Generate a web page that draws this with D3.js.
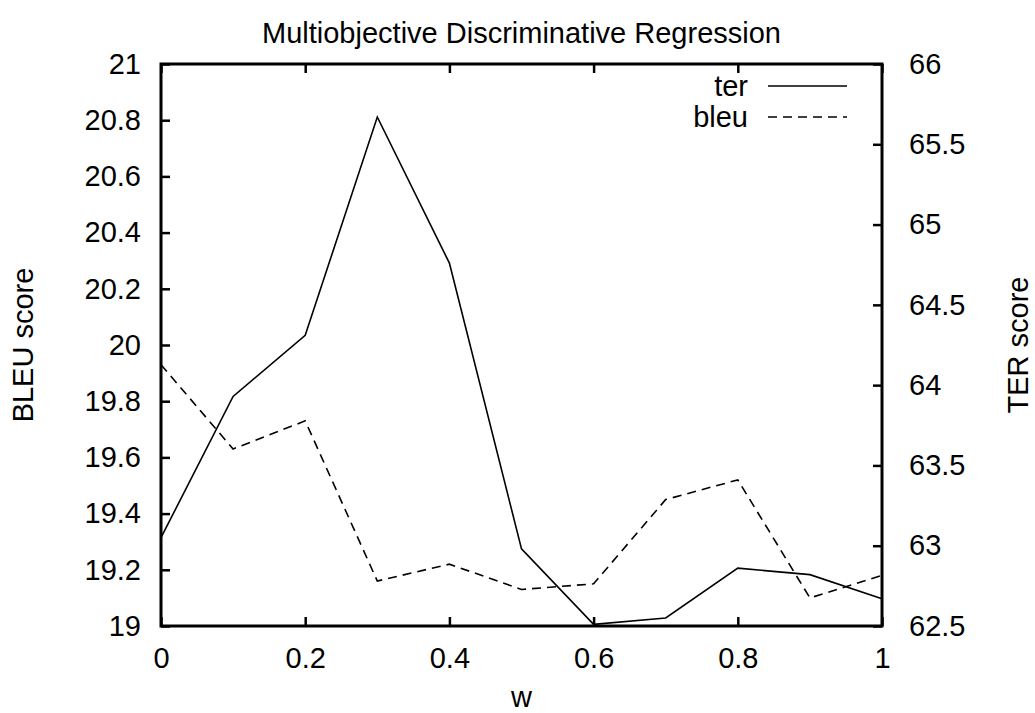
<!DOCTYPE html>
<html><head><meta charset="utf-8">
<script src="https://cdn.jsdelivr.net/npm/d3@7"></script>
<style>body{margin:0;background:#fff}text{font-family:"Liberation Sans",Arial,sans-serif;fill:#000}</style>
</head><body>
<svg id="c" width="1035" height="713"></svg>
<script>
const wValues = [0,0.1,0.2,0.3,0.4,0.5,0.6,0.7,0.8,0.9,1.0];
const terValues = [63.05,63.93,64.31,65.67,64.76,62.98,62.51,62.55,62.86,62.82,62.67];
const bleuValues = [19.93,19.63,19.73,19.16,19.22,19.13,19.15,19.45,19.52,19.10,19.18];
const xTicks = [0,0.2,0.4,0.6,0.8,1];
const yTicks = [19,19.2,19.4,19.6,19.8,20,20.2,20.4,20.6,20.8,21];
const y2Ticks = [62.5,63,63.5,64,64.5,65,65.5,66];
const seriesNames = ["ter","bleu"];

const svg = d3.select("#c");
const L=161,R=882,T=64,B=626, FS=29;
const x = d3.scaleLinear().domain([0,1]).range([L,R]);
const y = d3.scaleLinear().domain([19,21]).range([B,T]);
const y2 = d3.scaleLinear().domain([62.5,66]).range([B,T]);

const fmt = d => String(+d.toFixed(2));
const tickLen = 9;
const gB = svg.append("g").attr("transform",`translate(0,${B})`)
  .call(d3.axisBottom(x).tickValues(xTicks).tickFormat(fmt).tickSizeInner(-tickLen).tickSizeOuter(0).tickPadding(21));
const gT = svg.append("g").attr("transform",`translate(0,${T})`)
  .call(d3.axisTop(x).tickValues(xTicks).tickFormat("").tickSizeInner(-tickLen).tickSizeOuter(0));
const gL = svg.append("g").attr("transform",`translate(${L},0)`)
  .call(d3.axisLeft(y).tickValues(yTicks).tickFormat(fmt).tickSizeInner(-tickLen).tickSizeOuter(0).tickPadding(20));
const gR = svg.append("g").attr("transform",`translate(${R},0)`)
  .call(d3.axisRight(y2).tickValues(y2Ticks).tickFormat(fmt).tickSizeInner(-tickLen).tickSizeOuter(0).tickPadding(27));
[gB,gT,gL,gR].forEach(g=>{
  g.select(".domain").remove();
  g.selectAll(".tick line").attr("stroke","#000").attr("stroke-width",2.5);
  g.selectAll(".tick text").style("font-size",FS+"px").style("font-family","Liberation Sans, Arial, sans-serif").attr("fill","#000");
});

svg.append("rect").attr("x",L).attr("y",T).attr("width",R-L).attr("height",B-T)
  .attr("fill","none").attr("stroke","#000").attr("stroke-width",3);

const terLine = d3.line().x((d,i)=>x(wValues[i])).y(d=>y2(d));
const bleuLine = d3.line().x((d,i)=>x(wValues[i])).y(d=>y(d));
svg.append("path").datum(terValues).attr("d",terLine).attr("fill","none").attr("stroke","#000").attr("stroke-width",1.6);
svg.append("path").datum(bleuValues).attr("d",bleuLine).attr("fill","none").attr("stroke","#000").attr("stroke-width",1.6).attr("stroke-dasharray","9,6");

const lg = svg.append("g");
seriesNames.forEach((n,i)=>{
  const yy = 86 + i*31;
  lg.append("text").attr("x",748).attr("y",yy+10).attr("text-anchor","end").style("font-size",FS+"px").text(n);
  lg.append("line").attr("x1",768).attr("x2",847).attr("y1",yy).attr("y2",yy)
    .attr("stroke","#000").attr("stroke-width",1.6).attr("stroke-dasharray", i===1?"9,6":null);
});

svg.append("text").attr("x",(L+R)/2).attr("y",43).attr("text-anchor","middle").style("font-size",FS+"px").text("Multiobjective Discriminative Regression");
svg.append("text").attr("x",(L+R)/2).attr("y",707).attr("text-anchor","middle").style("font-size",FS+"px").text("w");
svg.append("text").attr("transform",`translate(33,${(T+B)/2}) rotate(-90)`).attr("text-anchor","middle").style("font-size",FS+"px").text("BLEU score");
svg.append("text").attr("transform",`translate(1028,${(T+B)/2}) rotate(-90)`).attr("text-anchor","middle").style("font-size",FS+"px").text("TER score");
</script>
</body></html>
